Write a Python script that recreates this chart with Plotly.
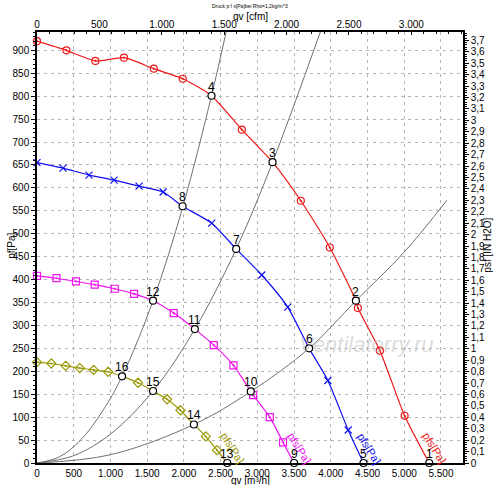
import plotly.graph_objects as go

# ---------------- data ----------------
# x: qv [m3/h], y: pfs [Pa]
red_q = [0, 400, 795, 1185, 1590, 1985, 2789, 3592, 3987, 4369, 4669, 5005]
red_p = [920, 900, 877, 884, 860, 838, 727, 572, 470, 338, 245, 103]
red_op_q = [2376, 3207, 4342, 5340]
red_op_p = [801, 656, 354, 0]
red_op_lbl = ["4", "3", "2", "1"]

blue_q = [0, 354, 708, 1049, 1390, 1717, 2379, 3060, 3414, 3960, 4237]
blue_p = [655, 643, 628, 617, 604, 591, 523, 410, 340, 180, 72]
blue_op_q = [1982, 2712, 3705, 4445]
blue_op_p = [560, 467, 250, 0]
blue_op_lbl = ["8", "7", "6", "5"]

mag_q = [0, 265, 530, 786, 1059, 1322, 1862, 2407, 2675, 2943, 3170, 3350]
mag_p = [408, 403, 396, 389, 380, 369, 327, 257, 213, 148, 100, 45]
mag_op_q = [1580, 2149, 2911, 3500]
mag_op_p = [354, 292, 156, 0]
mag_op_lbl = ["12", "11", "10", "9"]

olv_q = [0, 195, 390, 582, 772, 968, 1376, 1771, 1953, 2298, 2450]
olv_p = [220, 217, 212, 207, 203, 199, 175, 139, 115, 58, 28]
olv_op_q = [1158, 1580, 2136, 2590]
olv_op_p = [189, 157, 84, 0]
olv_op_lbl = ["16", "15", "14", "13"]

# system resistance curves (gray)
sysA_q = [0, 300, 600, 900, 1158, 1580, 1982, 2376, 2575]
sysA_p = [0, 13, 51, 115, 189, 354, 557, 801, 940]
sysB_q = [0, 500, 1000, 1580, 2149, 2712, 3207, 3857]
sysB_p = [0, 16, 63, 157, 292, 467, 656, 940]
sysC_q = [0, 1000, 2136, 2911, 3705, 4342, 5000, 5580]
sysC_p = [0, 18, 84, 156, 250, 354, 460, 573]

x_ticks = [0, 500, 1000, 1500, 2000, 2500, 3000, 3500, 4000, 4500, 5000, 5500]
y_ticks = list(range(0, 901, 50))
X_MAX = 5800
Y_MAX = 940
CFM_PER_M3H = 0.588578
PA_PER_INH2O = 249.089

FONT = "Liberation Sans, Arial, sans-serif"
RED = "#f01818"
BLUE = "#1010f0"
MAG = "#f014f0"
OLV = "#9a9a08"
GRAY = "#707070"

fig = go.Figure()

for sq, sp in [(sysA_q, sysA_p), (sysB_q, sysB_p), (sysC_q, sysC_p)]:
    fig.add_trace(go.Scatter(x=sq, y=sp, mode="lines", line=dict(color=GRAY, width=1, shape="spline", smoothing=1.0),
                             hoverinfo="skip", showlegend=False))

curves = [
    (red_q, red_p, red_op_q, red_op_p, red_op_lbl, RED, "circle-open-dot"),
    (blue_q, blue_p, blue_op_q, blue_op_p, blue_op_lbl, BLUE, "x-thin-open"),
    (mag_q, mag_p, mag_op_q, mag_op_p, mag_op_lbl, MAG, "square-open-dot"),
    (olv_q, olv_p, olv_op_q, olv_op_p, olv_op_lbl, OLV, "diamond-open-dot"),
]

annotations = []
# watermark (drawn first, under the rest of the annotations)
annotations.append(dict(x=4480, y=258, xref="x", yref="y", text="<i>Ventilatorry.ru</i>", showarrow=False,
                        font=dict(family=FONT, size=22, color="rgba(185,185,185,0.5)")))

for q, p, oq, op, ol, col, sym in curves:
    pts = sorted(list(zip(q, p)) + list(zip(oq, op)))
    fig.add_trace(go.Scatter(x=[a for a, b in pts], y=[b for a, b in pts], mode="lines",
                             line=dict(color=col, width=1.2, shape="spline", smoothing=0.6),
                             hoverinfo="skip", showlegend=False))
    fig.add_trace(go.Scatter(x=q, y=p, mode="markers",
                             marker=dict(symbol=sym, size=7, color=col, line=dict(color=col, width=1.2)),
                             hoverinfo="skip", showlegend=False, cliponaxis=False))
    annotations.append(dict(x=oq[-1] + 70, y=32, xref="x", yref="y", text="pfs[Pa]", showarrow=False,
                            textangle=58, font=dict(family=FONT, size=11, color=col)))

all_oq, all_op, all_ol = [], [], []
for q, p, oq, op, ol, col, sym in curves:
    all_oq += oq
    all_op += op
    all_ol += ol
fig.add_trace(go.Scatter(x=all_oq, y=all_op, mode="markers",
                         marker=dict(symbol="circle", size=7, color="white", line=dict(color="black", width=1.2)),
                         hoverinfo="skip", showlegend=False, cliponaxis=False))
for a, b, t in zip(all_oq, all_op, all_ol):
    annotations.append(dict(x=a, y=b, xref="x", yref="y", text=t, showarrow=False, yshift=9,
                            font=dict(family=FONT, size=12, color="black")))

# dummy trace to bring up secondary axes
fig.add_trace(go.Scatter(x=[0], y=[0], xaxis="x2", yaxis="y2", mode="markers",
                         marker=dict(opacity=0), hoverinfo="skip", showlegend=False))

# axis titles / chart title
title_common = dict(xref="paper", yref="paper", showarrow=False, xanchor="center", yanchor="middle")
annotations += [
    dict(x=0.5, y=-0.041, text="qv [m³/h]", font=dict(family=FONT, size=10, color="black"), **title_common),
    dict(x=0.5, y=1.0363, text="qv [cfm]", font=dict(family=FONT, size=10, color="black"), **title_common),
    dict(x=0.5, y=1.0612, text="Druck p f s[Pa]bei Rho=1,2kg/m^3", font=dict(family=FONT, size=5, color="black"),
         **title_common),
    dict(x=-0.06, y=0.505, text="pf[Pa]", textangle=-90, font=dict(family=FONT, size=10, color="black"),
         **title_common),
    dict(x=1.057, y=0.505, text="psf [IN H2O]", textangle=-90, font=dict(family=FONT, size=10, color="black"),
         **title_common),
]

tickfont = dict(family=FONT, size=10, color="black")
fig.update_layout(
    template="none",
    width=500, height=485,
    margin=dict(l=37, r=37, t=32, b=22, pad=0),
    paper_bgcolor="white", plot_bgcolor="white",
    separators=",.",
    showlegend=False,
    annotations=annotations,
    xaxis=dict(range=[0, X_MAX], tickvals=x_ticks, separatethousands=True, tickfont=tickfont,
               showgrid=True, gridcolor="#b4b4b4", griddash="3px,4px", gridwidth=1,
               showline=True, linecolor="black", linewidth=1.5, ticks="",
               zeroline=False, automargin=False),
    yaxis=dict(range=[0, Y_MAX], tickvals=y_ticks, tickfont=tickfont,
               showgrid=True, gridcolor="#b4b4b4", griddash="3px,4px", gridwidth=1,
               showline=True, linecolor="black", linewidth=1.5, ticks="outside", ticklen=4,
               tickcolor="black", zeroline=False, automargin=False,
               minor=dict(dtick=10, ticks="outside", ticklen=2, tickcolor="black", showgrid=False)),
    xaxis2=dict(overlaying="x", side="top", anchor="y", range=[0, X_MAX * CFM_PER_M3H], dtick=500,
                separatethousands=True, tickfont=tickfont, showgrid=False, showline=True,
                linecolor="black", linewidth=1.5, ticks="inside", ticklen=3, tickcolor="black",
                zeroline=False, automargin=False, ticklabelstandoff=-2,
                minor=dict(dtick=100, ticks="inside", ticklen=2, tickcolor="black")),
    yaxis2=dict(overlaying="y", side="right", anchor="x", range=[0, Y_MAX / PA_PER_INH2O], dtick=0.1,
                tickfont=tickfont, showgrid=False, showline=True, linecolor="black", linewidth=1.5,
                ticks="outside", ticklen=4, tickcolor="black", zeroline=False, automargin=False,
                minor=dict(dtick=0.02, ticks="outside", ticklen=2, tickcolor="black")),
)

fig.write_html("out.html", config={"displayModeBar": False},
               post_script="document.body.style.margin='0px';")
